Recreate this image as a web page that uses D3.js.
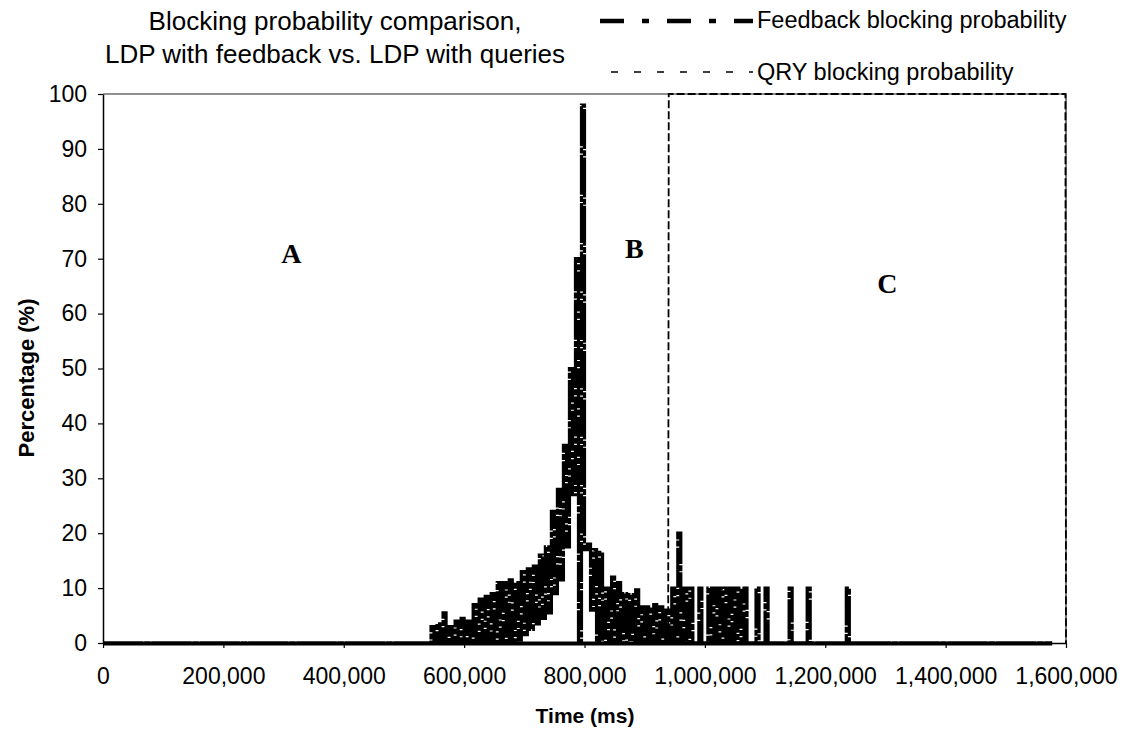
<!DOCTYPE html>
<html>
<head>
<meta charset="utf-8">
<script src="https://cdn.jsdelivr.net/npm/d3@7/dist/d3.min.js"></script>
<style>
body { margin: 0; background: #fff; }
text { font-family: "Liberation Sans", Arial, sans-serif; fill: #000; }
</style>
</head>
<body>
<script>
// tick values
var xTicks = [0, 200000, 400000, 600000, 800000, 1000000, 1200000, 1400000, 1600000];
var yTicks = [0, 10, 20, 30, 40, 50, 60, 70, 80, 90, 100];

// feedback blocking probability, sampled every 5,000 ms from 545,000 ms
var feedbackStart = 545000;
var feedbackStep = 5000;
var feedbackEnd = 1577000;
var feedbackValues = [
    3, 0, 3.5, 0, 5.5, 0, 3, 0, 4, 0,          // 545k - 590k
    4.5, 0, 4, 0, 7, 0, 8, 0, 8.5, 0,          // 595k - 640k
    9, 0, 11, 0, 11, 0, 11.5, 0, 11, 0.5,      // 645k - 690k
    13, 1.5, 13.5, 2.5, 14, 3.5, 16, 4.5, 17.5, 5.5, // 695k - 740k
    24, 9, 28, 11.5, 36, 17.5, 50, 27, 70, 0,  // 745k - 790k
    98, 17, 18, 6, 17, 0, 16.5, 0, 10, 0,      // 795k - 840k
    12, 0, 11, 0, 9, 0, 8.8, 0, 9.7, 0,        // 845k - 890k
    6.6, 0, 6.6, 0, 7, 0, 6.6, 0, 6, 0,        // 895k - 940k
    10, 0, 20, 0, 10, 0, 10, 0, 0, 10,         // 945k - 990k
    0, 0, 10, 0, 10, 0, 10, 0, 10, 0,          // 995k - 1040k
    10, 0, 10, 0, 10, 0, 0, 0, 10, 0,          // 1045k - 1090k
    0, 10, 0, 0, 0, 0, 0, 0, 0, 10,            // 1095k - 1140k
    0, 0, 0, 0, 0, 10, 0, 0, 0, 0,             // 1145k - 1190k
    0, 0, 0, 0, 0, 0, 0, 0, 10, 0,             // 1195k - 1240k
    0                                          // 1245k
];

// QRY blocking probability
var qryTimes = [0, 939000, 940000, 1599000, 1600000];
var qryValues = [0, 0, 100, 100, 0];

// region labels
var regionLabels = ["A", "B", "C"];
var regionTimes = [313000, 883000, 1303000];
var regionValues = [71, 72, 65.5];

var svg = d3.select("body")
            .append("svg")
            .attr("width", 1131)
            .attr("height", 738);

var x = d3.scaleLinear().domain([0, 1600000]).range([103, 1066]);
var y = d3.scaleLinear().domain([0, 100]).range([643, 94]);

// plot frame (top and right)
svg.append("path")
    .attr("d", "M" + x(0) + "," + y(100) + "H" + x(1600000) + "V" + y(0))
    .attr("fill", "none")
    .attr("stroke", "#222")
    .attr("stroke-width", 1.2);

// feedback series
var feedbackData = [{t: 0, v: 0}];
feedbackValues.forEach(function(d, i) {
    feedbackData.push({t: feedbackStart + i * feedbackStep, v: d});
});
feedbackData.push({t: feedbackEnd, v: 0});

var stepLine = d3.line()
                .x(function(d) { return x(d.t); })
                .y(function(d) { return y(d.v); })
                .curve(d3.curveStepAfter);

// qry series
var qryData = qryTimes.map(function(d, i) { return {t: d, v: qryValues[i]}; });
var plainLine = d3.line()
                .x(function(d) { return x(d.t); })
                .y(function(d) { return y(d.v); });

svg.append("path")
    .datum(qryData)
    .attr("d", plainLine)
    .attr("fill", "none")
    .attr("stroke", "#000")
    .attr("stroke-width", 1.8)
    .attr("stroke-dasharray", "8,3");

svg.append("path")
    .datum(feedbackData)
    .attr("d", stepLine)
    .attr("fill", "none")
    .attr("stroke", "#000")
    .attr("stroke-width", 3.2)
    .attr("stroke-dasharray", "40,1.2,6,1.2");

// baseline underlay so the zero line stays thick
svg.append("line")
    .attr("x1", x(0))
    .attr("x2", x(feedbackEnd))
    .attr("y1", y(0) + 0.5)
    .attr("y2", y(0) + 0.5)
    .attr("stroke", "#000")
    .attr("stroke-width", 4);

// axes
var yAxis = svg.append("g")
    .attr("transform", "translate(" + x(0) + ",0)")
    .call(d3.axisLeft(y).tickValues(yTicks).tickSize(5).tickPadding(11).tickSizeOuter(0));

var xAxis = svg.append("g")
    .attr("transform", "translate(0," + y(0) + ")")
    .call(d3.axisBottom(x).tickValues(xTicks).tickSize(5).tickPadding(20)
            .tickSizeOuter(0).tickFormat(d3.format(",")));

[yAxis, xAxis].forEach(function(g) {
    g.selectAll("path").attr("stroke", "#000").attr("stroke-width", 1.5);
    g.selectAll("line").attr("stroke", "#000").attr("stroke-width", 1.2);
    g.selectAll("text")
        .attr("font-size", "23px")
        .style("font-family", "'Liberation Sans', Arial, sans-serif");
});

// axis titles
svg.append("text")
    .attr("transform", "translate(34,378) rotate(-90)")
    .attr("text-anchor", "middle")
    .attr("font-size", "22px")
    .attr("font-weight", "bold")
    .text("Percentage (%)");

svg.append("text")
    .attr("x", 585)
    .attr("y", 723)
    .attr("text-anchor", "middle")
    .attr("font-size", "21px")
    .attr("font-weight", "bold")
    .text("Time (ms)");

// chart title
var title = ["Blocking probability comparison,", "LDP with feedback vs. LDP with queries"];
svg.selectAll(".title")
    .data(title)
    .enter()
    .append("text")
    .attr("class", "title")
    .attr("x", 335)
    .attr("y", function(d, i) { return 30 + i * 33; })
    .attr("text-anchor", "middle")
    .attr("font-size", "26px")
    .text(function(d) { return d; });

// legend
svg.append("line")
    .attr("x1", 600).attr("x2", 753)
    .attr("y1", 21).attr("y2", 21)
    .attr("stroke", "#000")
    .attr("stroke-width", 4.5)
    .attr("stroke-dasharray", "24,18,7,18");

svg.append("line")
    .attr("x1", 611).attr("x2", 753)
    .attr("y1", 72).attr("y2", 72)
    .attr("stroke", "#000")
    .attr("stroke-width", 1.3)
    .attr("stroke-dasharray", "7,16");

svg.append("text")
    .attr("x", 757).attr("y", 28)
    .attr("font-size", "23.5px")
    .text("Feedback blocking probability");

svg.append("text")
    .attr("x", 757).attr("y", 80)
    .attr("font-size", "23.5px")
    .text("QRY blocking probability");

// region letters
svg.selectAll(".region")
    .data(regionLabels)
    .enter()
    .append("text")
    .attr("class", "region")
    .attr("x", function(d, i) { return x(regionTimes[i]); })
    .attr("y", function(d, i) { return y(regionValues[i]); })
    .attr("dy", "0.35em")
    .attr("text-anchor", "middle")
    .attr("font-size", "28px")
    .attr("font-weight", "bold")
    .style("font-family", "'Liberation Serif', 'Times New Roman', serif")
    .text(function(d) { return d; });
</script>
</body>
</html>
